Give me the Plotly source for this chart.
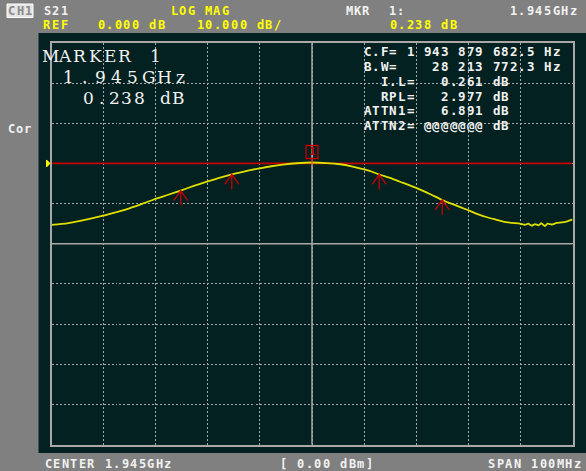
import plotly.graph_objects as go

# ---- Sweep data: S21 log-magnitude vs frequency ----
freq_ghz = [1.8950, 1.8980, 1.9005, 1.9049, 1.9075, 1.9101, 1.9125, 1.9149, 1.9174,
            1.9198, 1.9223, 1.9248, 1.9272, 1.9296, 1.9323, 1.9350, 1.9372, 1.9394,
            1.9420, 1.9450, 1.9478, 1.9504, 1.9526, 1.9548, 1.9564, 1.9579, 1.9600,
            1.9619, 1.9652, 1.9676, 1.9700, 1.9725, 1.9749, 1.9768, 1.9786, 1.9803,
            1.9817, 1.9833, 1.9849, 1.9859, 1.9865, 1.9872, 1.9878, 1.9885, 1.9890,
            1.9897, 1.9902, 1.9910, 1.9920, 1.9930, 1.9940, 1.9950]
s21_db = [-15.3, -14.9, -14.3, -13.0, -12.1, -11.1, -10.0, -8.85, -7.8,
          -6.75, -5.6, -4.55, -3.6, -2.75, -1.9, -1.2, -0.7, -0.3,
          0.05, 0.238, 0.1, -0.2, -0.7, -1.4, -2.0, -2.75, -3.6,
          -4.55, -6.2, -7.6, -9.1, -10.4, -11.6, -12.6, -13.4, -14.0,
          -14.5, -14.8, -15.0, -15.3, -15.0, -15.5, -15.1, -15.4, -14.9,
          -15.6, -15.0, -15.2, -14.8, -14.7, -14.4, -14.0]

# Filter-analysis sub-markers (bandwidth edges and attenuation points)
sub_marker_ghz = [1.9198, 1.9296, 1.9579, 1.9700]
sub_marker_db = [-6.75, -2.75, -2.75, -9.1]

# Active marker 1
marker_ghz = 1.945
marker_db = 0.238

# Display settings
center_ghz = 1.945
span_ghz = 0.100
ref_db = 0.0
scale_db = 10.0
ref_div = 3          # reference line sits 3 divisions below the top
n_div = 10

# Readout lines (right block)
readout_lines = ["C.F= 1 943 879 682.5 Hz",
                 "B.W=    28 213 772.3 Hz",
                 "  I.L=   0.261 dB",
                 "  RPL=   2.977 dB",
                 "ATTN1=   6.891 dB",
                 "ATTN2= @@@@@@@ dB"]

W, H = 586, 471
GRAY = "#808080"
PANEL = "#022120"
GRID = "#a9a9a9"
YEL = "#ffff00"
TRACE = "#e0e000"
RED = "#c80000"
WHITE = "#f2f2f2"


def px(x):
    return x / W


def py(y):
    return 1 - y / H


y_top = ref_db + ref_div * scale_db
y_bot = y_top - n_div * scale_db
x_lo = center_ghz - span_ghz / 2
x_hi = center_ghz + span_ghz / 2

fig = go.Figure()

# Reference line (drawn first so the trace sits on top of it)
fig.add_trace(go.Scatter(
    x=[x_lo, x_hi], y=[ref_db, ref_db], mode="lines",
    line=dict(color=RED, width=1.8), hoverinfo="skip", showlegend=False))

fig.add_trace(go.Scatter(
    x=freq_ghz, y=s21_db, mode="lines",
    line=dict(color=TRACE, width=1.8, shape="spline", smoothing=0.5),
    hoverinfo="skip", showlegend=False))

shapes = []
# Dark display panel
shapes.append(dict(type="rect", xref="paper", yref="paper",
                   x0=px(38.5), x1=1.0, y0=py(453), y1=py(33),
                   fillcolor=PANEL, line=dict(width=0), layer="below"))
# Centre graticule lines (solid)
shapes.append(dict(type="line", xref="x", yref="y domain",
                   x0=center_ghz, x1=center_ghz, y0=0, y1=1,
                   line=dict(color=GRID, width=1.5), layer="below"))
mid_db = (y_top + y_bot) / 2
shapes.append(dict(type="line", xref="x domain", yref="y",
                   x0=0, x1=1, y0=mid_db, y1=mid_db,
                   line=dict(color=GRID, width=1.5), layer="below"))
# Reference position triangle on the left edge
shapes.append(dict(type="path", xref="x domain", yref="y",
                   xsizemode="pixel", ysizemode="pixel",
                   xanchor=0, yanchor=ref_db,
                   path="M-5,3.5 L-1.5,0 L-5,-3.5 Z",
                   fillcolor=YEL, line=dict(color=YEL, width=1)))
# Sub-marker arrows
for f, v in zip(sub_marker_ghz, sub_marker_db):
    shapes.append(dict(type="path", xref="x", yref="y",
                       xsizemode="pixel", ysizemode="pixel",
                       xanchor=f, yanchor=v,
                       path="M0,0 L0,-15 M-7,-10 L0,0 L7,-10",
                       line=dict(color=RED, width=1.3)))
# Marker 1 flag
shapes.append(dict(type="rect", xref="x", yref="y",
                   xsizemode="pixel", ysizemode="pixel",
                   xanchor=marker_ghz, yanchor=marker_db,
                   x0=-6, x1=6, y0=4, y1=17,
                   line=dict(color=RED, width=1.3)))
shapes.append(dict(type="line", xref="x", yref="y",
                   xsizemode="pixel", ysizemode="pixel",
                   xanchor=marker_ghz, yanchor=marker_db,
                   x0=0, x1=0, y0=0, y1=4,
                   line=dict(color=RED, width=1.3)))
# CH1 badge
shapes.append(dict(type="rect", xref="paper", yref="paper",
                   x0=px(7), x1=px(33), y0=py(17.5), y1=py(4),
                   fillcolor="#e4e4e4", line=dict(color="#ffffff", width=1)))

MONO = "DejaVu Sans Mono"
SERIF = "DejaVu Serif"
ann = []


def cells(x_left, y, s, adv, color=WHITE, size=12, family=MONO, bold=True):
    """Instrument-style fixed-pitch text: each glyph sits in its own cell."""
    for i, ch in enumerate(s):
        if ch == " ":
            continue
        ann.append(dict(x=px(x_left + adv * (i + 0.5)), y=py(y),
                        xref="paper", yref="paper",
                        text=f"<b>{ch}</b>" if bold else ch, showarrow=False,
                        xanchor="center", yanchor="middle", borderpad=0,
                        font=dict(family=family, size=size, color=color)))


PITCH = 8.55
# Header
cells(7.5, 11, "CH1", PITCH, color="#8a8a8a")
cells(43, 11, "S21", PITCH)
cells(170, 11, "LOG MAG", PITCH, color=YEL)
cells(345, 11, "MKR  1:", PITCH)
cells(509, 11, f"{marker_ghz:.3f}GHz", PITCH)
cells(43, 25, "REF", PITCH, color=YEL)
cells(97, 25, f"{ref_db:.3f} dB", PITCH, color=YEL)
cells(196, 25, f"{scale_db:.3f} dB/", PITCH, color=YEL)
cells(389, 25, f"{marker_db:.3f} dB", PITCH, color=YEL)
# Side label
cells(7, 128.5, "Cor", 8.3)
# Footer
cells(44, 464, f"CENTER {center_ghz:.3f}GHz", PITCH)
cells(279.5, 464, "[ 0.00 dBm]", PITCH)
cells(487.5, 464, f"SPAN {span_ghz * 1000:.0f}MHz", PITCH)

# Large marker readout (wide vector-style lettering)
cells(42.5, 56.5, "MARKER 1", 15, size=17, family=SERIF, bold=False)
cells(60.5, 77, f"{marker_ghz:.3f}GHz", 16, size=17, family=SERIF, bold=False)
cells(82, 97.5, f"{marker_db:.3f} dB", 12.8, size=17, family=SERIF, bold=False)

# Filter analysis readout
for i, line in enumerate(readout_lines):
    cells(363.3, 51.7 + i * 14.8, line, 8.6, size=12.5)

# Marker number inside flag
ann.append(dict(x=marker_ghz, y=marker_db, xref="x", yref="y", text="<b>1</b>",
                showarrow=False, yshift=10.5, xanchor="center", yanchor="middle",
                font=dict(family=MONO, size=11, color=RED)))

axis_common = dict(showticklabels=False, ticks="", zeroline=False,
                   showgrid=True, gridcolor=GRID, gridwidth=1, griddash="2px,2px",
                   showline=True, mirror=True, linecolor=GRID, linewidth=1.5,
                   fixedrange=True)

fig.update_layout(
    width=W, height=H, margin=dict(l=0, r=0, t=0, b=0),
    paper_bgcolor=GRAY, plot_bgcolor="rgba(0,0,0,0)",
    xaxis=dict(range=[x_lo, x_hi], dtick=span_ghz / n_div, tick0=x_lo,
               domain=[px(51.5), px(572.5)], **axis_common),
    yaxis=dict(range=[y_bot, y_top], dtick=scale_db, tick0=y_bot,
               domain=[py(444.5), py(43)], **axis_common),
    shapes=shapes, annotations=ann, showlegend=False)

fig.write_html("out.html")
